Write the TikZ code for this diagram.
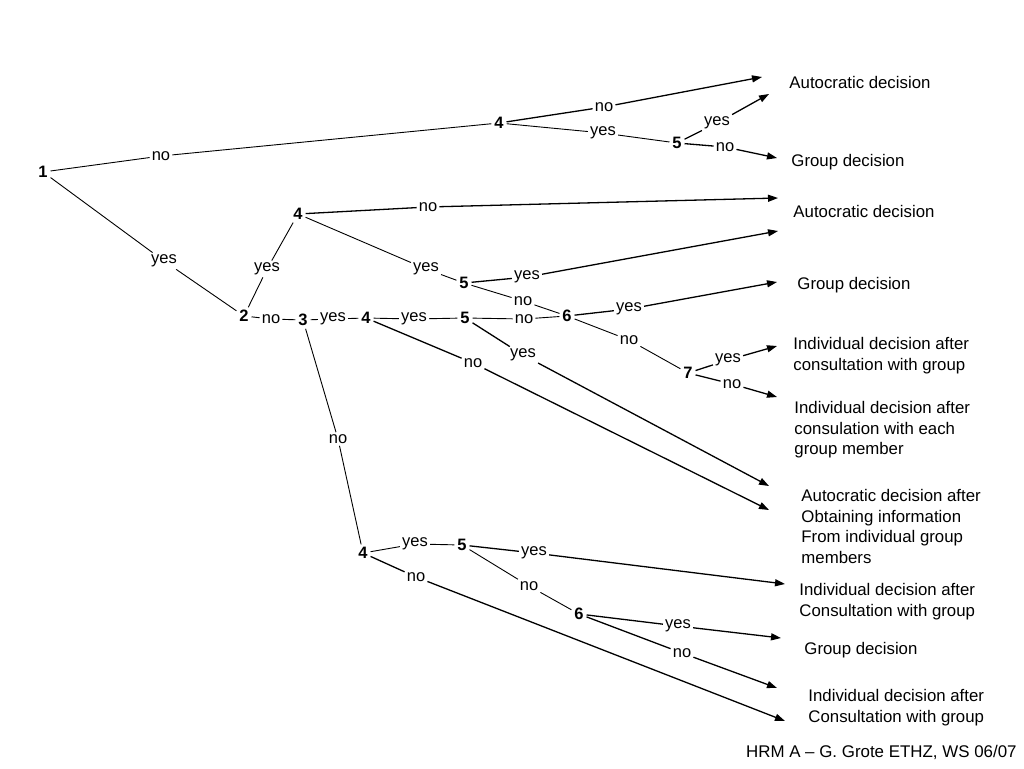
\documentclass[tikz,border=0pt]{standalone}
\usepackage{fontspec}
\setmainfont{Liberation Sans}
\usetikzlibrary{arrows.meta}
\tikzset{
	num/.style={font=\fontsize{16.5}{20.5}\selectfont\bfseries, inner sep=2.5pt},
	lbl/.style={font=\fontsize{16.5}{20.5}\selectfont, inner sep=1.8pt},
	res/.style={font=\fontsize{16.8}{20.5}\selectfont, align=left, anchor=north west, inner sep=0pt},
	arr/.style={line width=1.3pt, -{Triangle[length=10pt,width=7pt]}}
}
\begin{document}
\begin{tikzpicture}[x=1pt,y=-1pt,line width=0.9pt]
	\fill[white] (0,0) rectangle (1024,768);
	% decision points
	\node[num] (n1) at (43,172) {1};
	\node[num] (a4) at (499,123) {4};
	\node[num] (a5) at (677,143) {5};
	\node[num] (b4) at (298,214) {4};
	\node[num] (b5) at (464,283) {5};
	\node[num] (n2) at (244,316) {2};
	\node[num] (n3) at (303,320) {3};
	\node[num] (c4) at (366,318) {4};
	\node[num] (c5) at (465,318) {5};
	\node[num] (c6) at (567,316) {6};
	\node[num] (c7) at (688,373) {7};
	\node[num] (d4) at (363,553) {4};
	\node[num] (d5) at (462,545) {5};
	\node[num] (d6) at (579,614) {6};
	% answers
	\node[lbl] (n1no) at (161,156) {no};
	\node[lbl] (n1yes) at (164,261) {yes};
	\node[lbl] (a4no) at (604,107) {no};
	\node[lbl] (a4yes) at (603,133) {yes};
	\node[lbl] (a5yes) at (717,123) {yes};
	\node[lbl] (a5no) at (725,147) {no};
	\node[lbl] (n2yes) at (267,269) {yes};
	\node[lbl] (b4no) at (428,207) {no};
	\node[lbl] (b4yes) at (426,269) {yes};
	\node[lbl] (b5yes) at (527,277) {yes};
	\node[lbl] (b5no) at (523,301) {no};
	\node[lbl] (n2no) at (271,319) {no};
	\node[lbl] (n3yes) at (333,319) {yes};
	\node[lbl] (c4yes) at (414,319) {yes};
	\node[lbl] (c4no) at (473,363) {no};
	\node[lbl] (c5no) at (524,319) {no};
	\node[lbl] (c5yes) at (523,355) {yes};
	\node[lbl] (c6yes) at (629,309) {yes};
	\node[lbl] (c6no) at (629,340) {no};
	\node[lbl] (c7yes) at (728,360) {yes};
	\node[lbl] (c7no) at (732,384) {no};
	\node[lbl] (n3no) at (338,439) {no};
	\node[lbl] (d4yes) at (415,544) {yes};
	\node[lbl] (d4no) at (416,577) {no};
	\node[lbl] (d5yes) at (534,553) {yes};
	\node[lbl] (d5no) at (529,586) {no};
	\node[lbl] (d6yes) at (678,626) {yes};
	\node[lbl] (d6no) at (682,653) {no};
	% arrow ends
	\coordinate (ea4no) at (762,77);
	\coordinate (ea5yes) at (769,94);
	\coordinate (ea5no) at (777,158);
	\coordinate (eb4no) at (778,198);
	\coordinate (eb5yes) at (778,231);
	\coordinate (ec6yes) at (777,282);
	\coordinate (ec7yes) at (777,346);
	\coordinate (ec7no) at (777,397);
	\coordinate (ec5yes) at (769,486);
	\coordinate (ec4no) at (769,510);
	\coordinate (ed5yes) at (785,584);
	\coordinate (ed6yes) at (781,638);
	\coordinate (ed6no) at (777,688);
	\coordinate (ed4no) at (785,721);
	% outcomes
	\node[res] (r1) at (789,76) {Autocratic decision};
	\node[res] (r2) at (791,154) {Group decision};
	\node[res] (r3) at (793,205) {Autocratic decision};
	\node[res] (r4) at (797,277) {Group decision};
	\node[res] (r5) at (793,337) {Individual decision after\\consultation with group};
	\node[res] (r6) at (794,401) {Individual decision after\\consulation with each\\group member};
	\node[res] (r7) at (801,489) {Autocratic decision after\\Obtaining information\\From individual group\\members};
	\node[res] (r8) at (799,583) {Individual decision after\\Consultation with group};
	\node[res] (r9) at (804,642) {Group decision};
	\node[res] (r10) at (808,689) {Individual decision after\\Consultation with group};
	\node[font=\fontsize{16.9}{20}\selectfont, anchor=east, inner sep=0pt] (foot) at (1017,752) {HRM A – G. Grote ETHZ, WS 06/07};
	% branches
	\draw (n1) -- (n1no) -- (a4);
	\draw[arr] (a4) -- (a4no) -- (ea4no);
	\draw (a4) -- (a4yes) -- (a5);
	\draw[arr] (a5) -- (a5yes) -- (ea5yes);
	\draw[arr] (a5) -- (a5no) -- (ea5no);
	\draw (n1) -- (n1yes) -- (n2);
	\draw (n2) -- (n2yes) -- (b4);
	\draw[arr] (b4) -- (b4no) -- (eb4no);
	\draw (b4) -- (b4yes) -- (b5);
	\draw[arr] (b5) -- (b5yes) -- (eb5yes);
	\draw (b5) -- (b5no) -- (c6);
	\draw (n2) -- (n2no) -- (n3) -- (n3yes) -- (c4) -- (c4yes) -- (c5) -- (c5no) -- (c6);
	\draw[arr] (c6) -- (c6yes) -- (ec6yes);
	\draw (c6) -- (c6no) -- (c7);
	\draw[arr] (c7) -- (c7yes) -- (ec7yes);
	\draw[arr] (c7) -- (c7no) -- (ec7no);
	\draw[arr] (c5) -- (c5yes) -- (ec5yes);
	\draw[arr] (c4) -- (c4no) -- (ec4no);
	\draw (n3) -- (n3no) -- (d4);
	\draw (d4) -- (d4yes) -- (d5);
	\draw[arr] (d4) -- (d4no) -- (ed4no);
	\draw[arr] (d5) -- (d5yes) -- (ed5yes);
	\draw (d5) -- (d5no) -- (d6);
	\draw[arr] (d6) -- (d6yes) -- (ed6yes);
	\draw[arr] (d6) -- (d6no) -- (ed6no);
\end{tikzpicture}
\end{document}
